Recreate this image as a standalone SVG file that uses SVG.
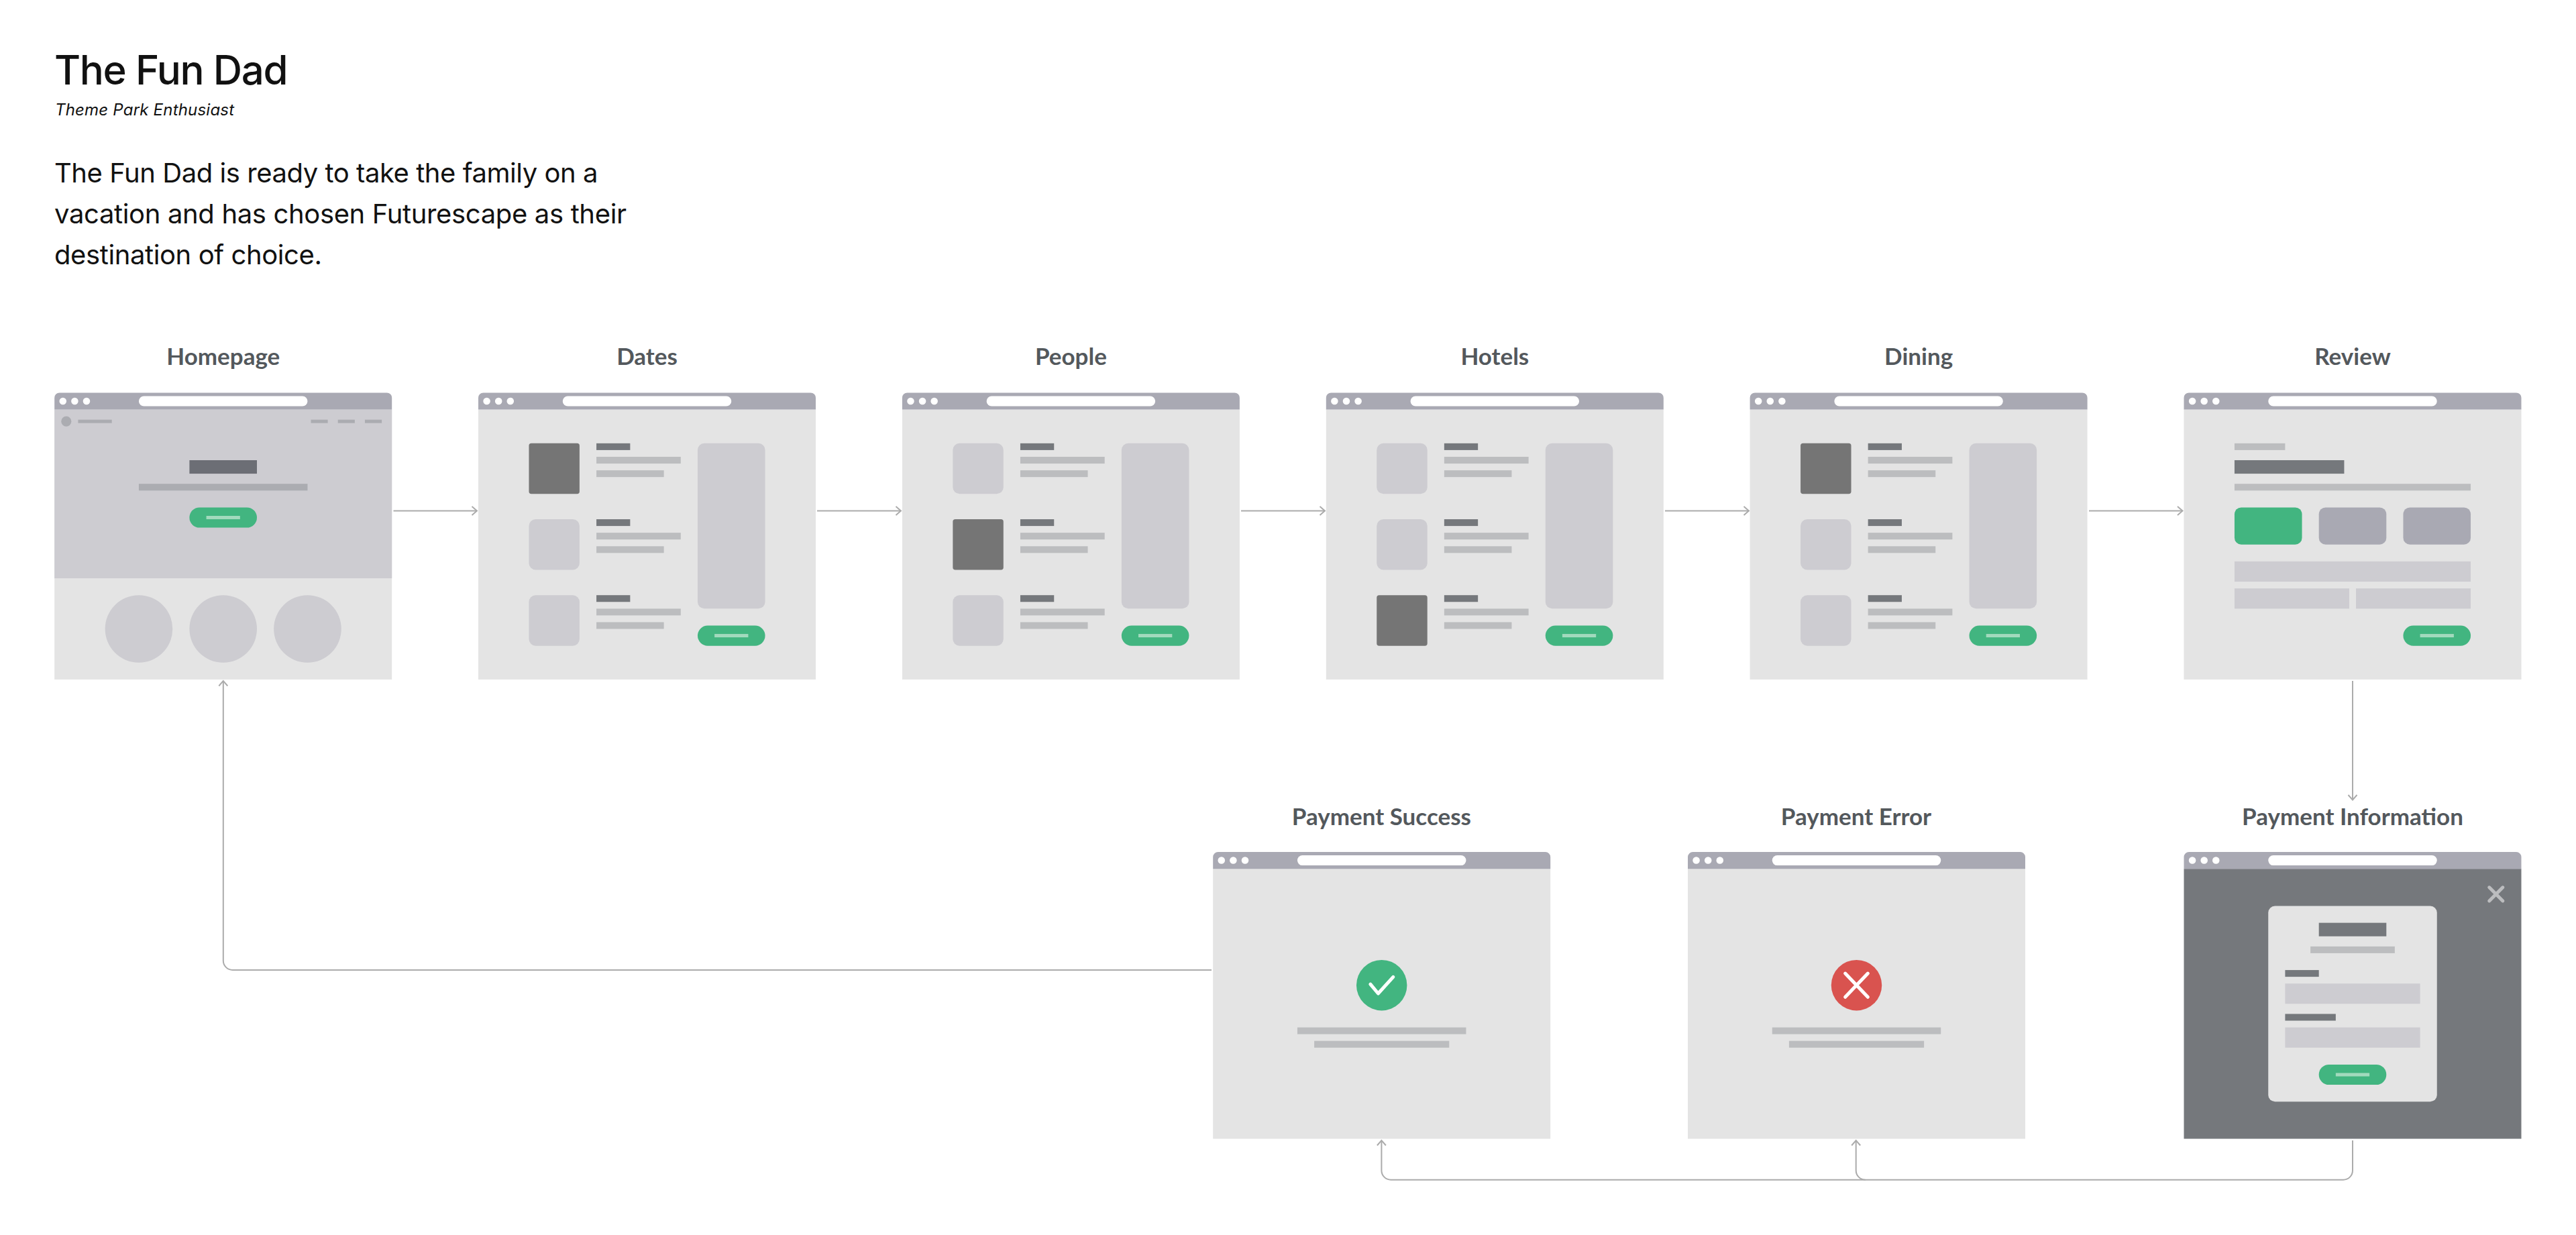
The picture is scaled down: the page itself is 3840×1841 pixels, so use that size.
<svg xmlns="http://www.w3.org/2000/svg" xmlns:xlink="http://www.w3.org/1999/xlink" width="3840" height="1841" viewBox="0 0 3840 1841">
<style>
text{font-family:"Inter","Liberation Sans",sans-serif;fill:#111}
.lbl{font-family:"Lato","Liberation Sans",sans-serif;font-size:35px;font-weight:700;fill:#53585c;text-anchor:middle}
.bar{fill:#a9a9b3}.w{fill:#fff}.body{fill:#e4e4e4}.mid{fill:#cdccd1}.dk{fill:#75787c}.ln{fill:#bcbdbf}.gr{fill:#42b580}.in{fill:#a2dabd}.sq{fill:#757575}.nav{fill:#abacb1}.rd{fill:#d9534f}
.conn{fill:none;stroke:#ababab;stroke-width:2}
.ic{fill:none;stroke:#fff;stroke-width:.2;stroke-linecap:round;stroke-linejoin:round}
</style>
<defs>
<marker id="arr" markerUnits="userSpaceOnUse" markerWidth="20" markerHeight="20" viewBox="-10 -10 20 20" refX="0" refY="0" orient="auto"><path d="M-7.5-6.5L0 0L-7.5 6.5" fill="none" stroke="#ababab" stroke-width="2"/></marker>
<g id="chrome">
<path class="bar" d="M0 1V.3A.3.3 0 0 1 .3 0H19.7A.3.3 0 0 1 20 .3V1Z"/>
<circle class="w" cx=".5" cy=".5" r=".21"/><circle class="w" cx="1.2" cy=".5" r=".21"/><circle class="w" cx="1.9" cy=".5" r=".21"/>
<rect class="w" x="5" y=".2" width="10" height=".6" rx=".3"/>
</g>
<rect id="page" class="body" y="1" width="20" height="16"/>
<g id="btn"><rect class="gr" x="13" y="13.8" width="4" height="1.2" rx=".6"/><rect class="in" x="14" y="14.3" width="2" height=".2"/></g>
<g id="lines"><rect class="dk" x="7" y="3" width="2" height=".4"/><rect class="ln" x="7" y="3.8" width="5" height=".4"/><rect class="ln" x="7" y="4.6" width="4" height=".4"/></g>
<g id="side"><rect class="mid" x="13" y="3" width="4" height="9.8" rx=".4"/></g>
<rect id="off" class="mid" x="3" width="3" height="3" rx=".4"/>
<rect id="on" class="sq" x="3" width="3" height="3" rx=".15"/>
<g id="list"><use xlink:href="#chrome"/><use xlink:href="#lines"/><use xlink:href="#lines" y="4.5"/><use xlink:href="#lines" y="9"/><use xlink:href="#side"/><use xlink:href="#btn"/></g>
</defs>
<rect width="3840" height="1841" fill="#fff"/>
<g id="header">
<text x="81" y="126" font-size="60" font-weight="500" letter-spacing="-1.4">The Fun Dad</text>
<text x="82" y="172" font-size="24" letter-spacing=".2" font-style="italic">Theme Park Enthusiast</text>
<text x="81" y="272" font-size="40" letter-spacing="-.45">The Fun Dad is ready to take the family on a</text>
<text x="81" y="333" font-size="40" letter-spacing="-.35">vacation and has chosen Futurescape as their</text>
<text x="81" y="394" font-size="40" letter-spacing="-.4">destination of choice.</text>
</g>
<g id="connectors" class="conn">
<path marker-end="url(#arr)" d="M586.5 761.4H711"/>
<path marker-end="url(#arr)" d="M1218 761.4H1343"/>
<path marker-end="url(#arr)" d="M1850 761.4H1975"/>
<path marker-end="url(#arr)" d="M2482 761.4H2607"/>
<path marker-end="url(#arr)" d="M3114 761.4H3253.5"/>
<path marker-end="url(#arr)" d="M3507 1015V1192.5"/>
<path marker-end="url(#arr)" d="M1806 1446H346.8A14 14 0 0 1 332.8 1432V1015"/>
<path marker-end="url(#arr)" d="M3507 1700V1744.7A14 14 0 0 1 3493 1758.7H2073.4A14 14 0 0 1 2059.4 1744.7V1700"/>
<path marker-end="url(#arr)" d="M2780.7 1758.7A14 14 0 0 1 2766.7 1744.7V1700"/>
</g>
<g id="homepage">
<text class="lbl" x="332.8" y="544">Homepage</text>
<g transform="translate(81.2 585.4) scale(25.15)">
<use xlink:href="#page"/><rect class="mid" y="1" width="20" height="10"/><use xlink:href="#chrome"/>
<circle class="nav" cx=".7" cy="1.7" r=".3"/><rect class="nav" x="1.4" y="1.6" width="2" height=".2"/>
<rect class="nav" x="15.2" y="1.6" width="1" height=".2"/><rect class="nav" x="16.8" y="1.6" width="1" height=".2"/><rect class="nav" x="18.4" y="1.6" width="1" height=".2"/>
<rect fill="#6c6e75" x="8" y="4" width="4" height=".8"/><rect class="nav" x="5" y="5.4" width="10" height=".4"/>
<rect class="gr" x="8" y="6.8" width="4" height="1.2" rx=".6"/><rect class="in" x="9" y="7.3" width="2" height=".2"/>
<circle class="mid" cx="5" cy="14" r="2"/><circle class="mid" cx="10" cy="14" r="2"/><circle class="mid" cx="15" cy="14" r="2"/>
</g></g>
<g id="dates">
<text class="lbl" x="964.5" y="544">Dates</text>
<g transform="translate(713 585.4) scale(25.15)"><use xlink:href="#page"/><use xlink:href="#list"/><use xlink:href="#on" y="3"/><use xlink:href="#off" y="7.5"/><use xlink:href="#off" y="12"/></g></g>
<g id="people">
<text class="lbl" x="1596.4" y="544">People</text>
<g transform="translate(1344.9 585.4) scale(25.15)"><use xlink:href="#page"/><use xlink:href="#list"/><use xlink:href="#off" y="3"/><use xlink:href="#on" y="7.5"/><use xlink:href="#off" y="12"/></g></g>
<g id="hotels">
<text class="lbl" x="2228.3" y="544">Hotels</text>
<g transform="translate(1976.8 585.4) scale(25.15)"><use xlink:href="#page"/><use xlink:href="#list"/><use xlink:href="#off" y="3"/><use xlink:href="#off" y="7.5"/><use xlink:href="#on" y="12"/></g></g>
<g id="dining">
<text class="lbl" x="2860.1" y="544">Dining</text>
<g transform="translate(2608.6 585.4) scale(25.15)"><use xlink:href="#page"/><use xlink:href="#list"/><use xlink:href="#on" y="3"/><use xlink:href="#off" y="7.5"/><use xlink:href="#off" y="12"/></g></g>
<g id="review">
<text class="lbl" x="3507" y="544">Review</text>
<g transform="translate(3255.5 585.4) scale(25.15)"><use xlink:href="#page"/><use xlink:href="#chrome"/>
<rect class="ln" x="3" y="3" width="3" height=".4"/><rect class="dk" x="3" y="4" width="6.5" height=".8"/><rect class="ln" x="3" y="5.4" width="14" height=".4"/>
<rect class="gr" x="3" y="6.8" width="4" height="2.2" rx=".4"/><rect class="bar" x="8" y="6.8" width="4" height="2.2" rx=".4"/><rect class="bar" x="13" y="6.8" width="4" height="2.2" rx=".4"/>
<rect class="mid" x="3" y="10" width="14" height="1.2"/><rect class="mid" x="3" y="11.6" width="6.8" height="1.2"/><rect class="mid" x="10.2" y="11.6" width="6.8" height="1.2"/>
<use xlink:href="#btn"/></g></g>
<g id="payment-success">
<text class="lbl" x="2059.4" y="1230">Payment Success</text>
<g transform="translate(1808.2 1270) scale(25.15)"><use xlink:href="#page"/><use xlink:href="#chrome"/>
<circle class="gr" cx="10" cy="7.9" r="1.5"/><path class="ic" d="M9.33 7.84L9.79 8.39L10.68 7.41"/>
<rect class="ln" x="5" y="10.4" width="10" height=".4"/><rect class="ln" x="6" y="11.2" width="8" height=".4"/></g></g>
<g id="payment-error">
<text class="lbl" x="2767" y="1230">Payment Error</text>
<g transform="translate(2516 1270) scale(25.15)"><use xlink:href="#page"/><use xlink:href="#chrome"/>
<circle class="rd" cx="10" cy="7.9" r="1.5"/><path class="ic" d="M9.33 7.2L10.67 8.6M10.67 7.2L9.33 8.6"/>
<rect class="ln" x="5" y="10.4" width="10" height=".4"/><rect class="ln" x="6" y="11.2" width="8" height=".4"/></g></g>
<g id="payment-information">
<text class="lbl" x="3507" y="1230">Payment Information</text>
<g transform="translate(3255.5 1270) scale(25.15)"><rect class="dk" y="1" width="20" height="16"/><use xlink:href="#chrome"/>
<path d="M18.1 2.1L18.9 2.9M18.9 2.1L18.1 2.9" fill="none" stroke="#bcbdbf" stroke-width=".2" stroke-linecap="round"/>
<rect class="body" x="5" y="3.2" width="10" height="11.6" rx=".4"/>
<rect class="dk" x="8" y="4.2" width="4" height=".8"/><rect class="ln" x="7.5" y="5.6" width="5" height=".4"/>
<rect class="dk" x="6" y="7" width="2" height=".4"/><rect class="mid" x="6" y="7.8" width="8" height="1.2"/>
<rect class="dk" x="6" y="9.6" width="3" height=".4"/><rect class="mid" x="6" y="10.4" width="8" height="1.2"/>
<rect class="gr" x="8" y="12.6" width="4" height="1.2" rx=".6"/><rect class="in" x="9" y="13.1" width="2" height=".2"/></g></g>
</svg>
